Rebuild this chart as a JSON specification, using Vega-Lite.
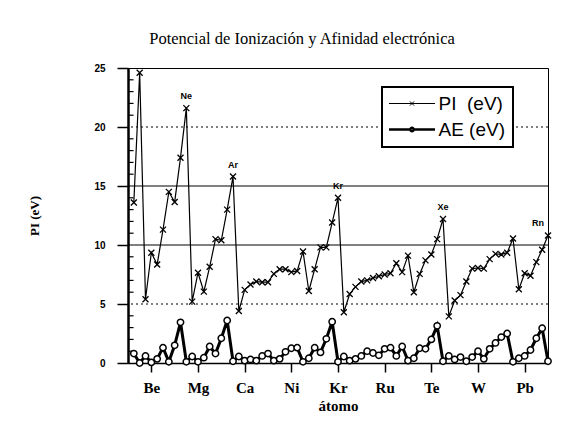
{
  "$schema": "https://vega.github.io/schema/vega-lite/v6.json",
  "width": 420,
  "height": 295,
  "autosize": {"type": "none"},
  "padding": {"left": 128, "top": 68, "right": 35, "bottom": 60},
  "background": "white",
  "title": {
    "text": "Potencial de Ionización y Afinidad electrónica",
    "font": "Liberation Serif",
    "fontSize": 16.5,
    "fontWeight": "normal",
    "color": "black",
    "anchor": "middle",
    "frame": "group",
    "dx": -36,
    "offset": 16
  },
  "config": {
    "view": {"stroke": "black", "strokeWidth": 1},
    "axis": {"domainColor": "black", "tickColor": "black", "labelColor": "black", "titleColor": "black", "grid": false},
    "axisX": {
      "labelOverlap": false,
      "labelFont": "Liberation Serif",
      "labelFontWeight": "bold",
      "labelFontSize": 15,
      "labelPadding": 8,
      "tickSize": 9,
      "tickWidth": 1.5,
      "domainWidth": 1.5,
      "titleFont": "Liberation Serif",
      "titleFontSize": 15,
      "titleFontWeight": "bold",
      "titlePadding": 3
    },
    "axisY": {
      "labelFont": "Liberation Sans",
      "labelFontWeight": "bold",
      "labelFontSize": 10,
      "labelPadding": 12,
      "tickSize": 11,
      "tickWidth": 1.5,
      "domainWidth": 2.5,
      "titleFont": "Liberation Serif",
      "titleFontSize": 13,
      "titleFontWeight": "bold",
      "titlePadding": 52
    }
  },
  "datasets": {
    "el": [
      {"n": 1, "el": "H", "pi": 13.6, "ae": 0.8},
      {"n": 2, "el": "He", "pi": 24.6, "ae": 0.0},
      {"n": 3, "el": "Li", "pi": 5.4, "ae": 0.6},
      {"n": 4, "el": "Be", "pi": 9.35, "ae": 0.05},
      {"n": 5, "el": "B", "pi": 8.35, "ae": 0.35},
      {"n": 6, "el": "C", "pi": 11.3, "ae": 1.3},
      {"n": 7, "el": "N", "pi": 14.5, "ae": 0.1},
      {"n": 8, "el": "O", "pi": 13.65, "ae": 1.5},
      {"n": 9, "el": "F", "pi": 17.4, "ae": 3.45},
      {"n": 10, "el": "Ne", "pi": 21.6, "ae": 0.1},
      {"n": 11, "el": "Na", "pi": 5.2, "ae": 0.55},
      {"n": 12, "el": "Mg", "pi": 7.65, "ae": 0.1},
      {"n": 13, "el": "Al", "pi": 6.05, "ae": 0.45},
      {"n": 14, "el": "Si", "pi": 8.15, "ae": 1.4},
      {"n": 15, "el": "P", "pi": 10.5, "ae": 0.8},
      {"n": 16, "el": "S", "pi": 10.4, "ae": 2.1},
      {"n": 17, "el": "Cl", "pi": 13.0, "ae": 3.6},
      {"n": 18, "el": "Ar", "pi": 15.8, "ae": 0.15},
      {"n": 19, "el": "K", "pi": 4.4, "ae": 0.55},
      {"n": 20, "el": "Ca", "pi": 6.2, "ae": 0.2},
      {"n": 21, "el": "Sc", "pi": 6.65, "ae": 0.3},
      {"n": 22, "el": "Ti", "pi": 6.9, "ae": 0.2},
      {"n": 23, "el": "V", "pi": 6.85, "ae": 0.6},
      {"n": 24, "el": "Cr", "pi": 6.85, "ae": 0.8},
      {"n": 25, "el": "Mn", "pi": 7.55, "ae": 0.2},
      {"n": 26, "el": "Fe", "pi": 7.95, "ae": 0.35},
      {"n": 27, "el": "Co", "pi": 7.95, "ae": 0.95},
      {"n": 28, "el": "Ni", "pi": 7.7, "ae": 1.25},
      {"n": 29, "el": "Cu", "pi": 7.8, "ae": 1.3},
      {"n": 30, "el": "Zn", "pi": 9.45, "ae": 0.1},
      {"n": 31, "el": "Ga", "pi": 6.1, "ae": 0.4},
      {"n": 32, "el": "Ge", "pi": 7.95, "ae": 1.3},
      {"n": 33, "el": "As", "pi": 9.8, "ae": 0.9},
      {"n": 34, "el": "Se", "pi": 9.8, "ae": 2.05},
      {"n": 35, "el": "Br", "pi": 11.9, "ae": 3.5},
      {"n": 36, "el": "Kr", "pi": 14.0, "ae": 0.1},
      {"n": 37, "el": "Rb", "pi": 4.3, "ae": 0.55},
      {"n": 38, "el": "Sr", "pi": 5.85, "ae": 0.2},
      {"n": 39, "el": "Y", "pi": 6.45, "ae": 0.35},
      {"n": 40, "el": "Zr", "pi": 6.9, "ae": 0.6},
      {"n": 41, "el": "Nb", "pi": 7.0, "ae": 1.0},
      {"n": 42, "el": "Mo", "pi": 7.2, "ae": 0.85},
      {"n": 43, "el": "Tc", "pi": 7.35, "ae": 0.65},
      {"n": 44, "el": "Ru", "pi": 7.5, "ae": 1.2},
      {"n": 45, "el": "Rh", "pi": 7.6, "ae": 1.3},
      {"n": 46, "el": "Pd", "pi": 8.45, "ae": 0.6},
      {"n": 47, "el": "Ag", "pi": 7.7, "ae": 1.4},
      {"n": 48, "el": "Cd", "pi": 9.1, "ae": 0.2},
      {"n": 49, "el": "In", "pi": 6.0, "ae": 0.4},
      {"n": 50, "el": "Sn", "pi": 7.55, "ae": 1.25},
      {"n": 51, "el": "Sb", "pi": 8.7, "ae": 1.2},
      {"n": 52, "el": "Te", "pi": 9.2, "ae": 2.0},
      {"n": 53, "el": "I", "pi": 10.5, "ae": 3.15},
      {"n": 54, "el": "Xe", "pi": 12.2, "ae": 0.15},
      {"n": 55, "el": "Cs", "pi": 3.95, "ae": 0.6},
      {"n": 56, "el": "Ba", "pi": 5.3, "ae": 0.3},
      {"n": 57, "el": "La", "pi": 5.75, "ae": 0.5},
      {"n": 58, "el": "Hf", "pi": 6.9, "ae": 0.15},
      {"n": 59, "el": "Ta", "pi": 8.0, "ae": 0.5},
      {"n": 60, "el": "W", "pi": 8.05, "ae": 1.0},
      {"n": 61, "el": "Re", "pi": 8.0, "ae": 0.35},
      {"n": 62, "el": "Os", "pi": 8.8, "ae": 1.2},
      {"n": 63, "el": "Ir", "pi": 9.25, "ae": 1.7},
      {"n": 64, "el": "Pt", "pi": 9.2, "ae": 2.2},
      {"n": 65, "el": "Au", "pi": 9.35, "ae": 2.5},
      {"n": 66, "el": "Hg", "pi": 10.55, "ae": 0.1},
      {"n": 67, "el": "Tl", "pi": 6.25, "ae": 0.4},
      {"n": 68, "el": "Pb", "pi": 7.6, "ae": 0.6},
      {"n": 69, "el": "Bi", "pi": 7.4, "ae": 1.1},
      {"n": 70, "el": "Po", "pi": 8.55, "ae": 2.1},
      {"n": 71, "el": "At", "pi": 9.6, "ae": 2.95},
      {"n": 72, "el": "Rn", "pi": 10.8, "ae": 0.15}
    ],
    "minor": [
      {"t": 1}, {"t": 2}, {"t": 3}, {"t": 4}, {"t": 6}, {"t": 7}, {"t": 8}, {"t": 9},
      {"t": 11}, {"t": 12}, {"t": 13}, {"t": 14}, {"t": 16}, {"t": 17}, {"t": 18}, {"t": 19},
      {"t": 21}, {"t": 22}, {"t": 23}, {"t": 24}
    ],
    "dotted": [{"g": 5}, {"g": 20}],
    "solid": [{"g": 10}, {"g": 15}]
  },
  "layer": [
    {
      "data": {"name": "minor"},
      "mark": {"type": "rule", "color": "black", "strokeWidth": 1.2},
      "encoding": {
        "x": {"datum": 0, "type": "quantitative", "scale": {"domain": [0, 72], "nice": false, "zero": false},
          "axis": {
            "title": "átomo",
            "values": [4, 8, 12, 16, 20, 24, 28, 32, 36, 40, 44, 48, 52, 56, 60, 64, 68],
            "labelExpr": "['Be','','Mg','','Ca','','Ni','','Kr','','Ru','','Te','','W','','Pb'][datum.value/4 - 1]"
          }},
        "x2": {"datum": 0.95},
        "y": {"field": "t", "type": "quantitative", "scale": {"domain": [0, 25], "nice": false},
          "axis": {
            "title": "PI (eV)",
            "values": [0, 5, 10, 15, 20, 25]
          }}
      }
    },
    {
      "data": {"name": "dotted"},
      "mark": {"type": "rule", "color": "black", "strokeWidth": 1.2, "strokeDash": [2, 3]},
      "encoding": {
        "y": {"field": "g", "type": "quantitative"}
      }
    },
    {
      "data": {"name": "solid"},
      "mark": {"type": "rule", "color": "black", "strokeWidth": 1},
      "encoding": {
        "y": {"field": "g", "type": "quantitative"}
      }
    },
    {
      "data": {"name": "el"},
      "mark": {"type": "line", "strokeWidth": 1.2},
      "encoding": {
        "x": {"field": "n", "type": "quantitative"},
        "y": {"field": "pi", "type": "quantitative"},
        "stroke": {"datum": "pi", "type": "nominal",
          "scale": {"domain": ["pi", "ae"], "range": ["black", "black"]},
          "legend": {
            "orient": "none",
            "legendX": 254,
            "legendY": 19,
            "title": null,
            "fillColor": "white",
            "strokeColor": "black",
            "padding": 7,
            "rowPadding": 6,
            "labelFont": "Liberation Sans",
            "labelFontSize": 19,
            "labelColor": "black",
            "labelOffset": 17,
            "symbolOffset": 13.5,
            "labelExpr": "datum.value == 'pi' ? 'PI\u00a0\u00a0(eV)' : 'AE\u00a0(eV)'",
            "symbolSize": 2116,
            "symbolStrokeColor": "black",
            "encode": {
              "legend": {"update": {"strokeWidth": {"value": 2}}},
              "symbols": {
                "update": {
                  "shape": {"signal": "datum.value == 'pi' ? 'M-1,0L1,0M-0.09,-0.09L0.09,0.09M0.09,-0.09L-0.09,0.09' : 'M-1,0L-0.075,0M0.075,0L1,0M0.075,0A0.075,0.075 0 1 1 -0.075,0A0.075,0.075 0 1 1 0.075,0'"},
                  "strokeWidth": {"signal": "datum.value == 'pi' ? 1 : 2.5"},
                  "fill": {"value": "white"},
                  "stroke": {"value": "black"},
                  "opacity": {"value": 1}
                }
              }
            }
          }}
      }
    },
    {
      "data": {"name": "el"},
      "mark": {"type": "line", "strokeWidth": 3},
      "encoding": {
        "x": {"field": "n", "type": "quantitative"},
        "y": {"field": "ae", "type": "quantitative"},
        "stroke": {"datum": "ae", "type": "nominal"}
      }
    },
    {
      "data": {"name": "el"},
      "mark": {"type": "point", "shape": "M-1,-1L1,1M1,-1L-1,1", "size": 36, "strokeWidth": 1.3, "stroke": "black", "filled": false, "opacity": 1},
      "encoding": {
        "x": {"field": "n", "type": "quantitative"},
        "y": {"field": "pi", "type": "quantitative"}
      }
    },
    {
      "data": {"name": "el"},
      "mark": {"type": "point", "shape": "circle", "size": 40, "strokeWidth": 1.5, "stroke": "black", "fill": "white", "filled": true, "opacity": 1},
      "encoding": {
        "x": {"field": "n", "type": "quantitative"},
        "y": {"field": "ae", "type": "quantitative"}
      }
    },
    {
      "data": {"name": "el"},
      "transform": [{"filter": "indexof(['Ne','Ar','Kr','Xe'], datum.el) >= 0"}],
      "mark": {"type": "text", "font": "Liberation Sans", "fontWeight": "bold", "fontSize": 9, "color": "black", "dy": -12},
      "encoding": {
        "x": {"field": "n", "type": "quantitative"},
        "y": {"field": "pi", "type": "quantitative"},
        "text": {"field": "el"}
      }
    },
    {
      "data": {"name": "el"},
      "transform": [{"filter": "datum.el == 'Rn'"}],
      "mark": {"type": "text", "font": "Liberation Sans", "fontWeight": "bold", "fontSize": 9, "color": "black", "dy": -13, "dx": -10},
      "encoding": {
        "x": {"field": "n", "type": "quantitative"},
        "y": {"field": "pi", "type": "quantitative"},
        "text": {"field": "el"}
      }
    }
  ]
}
